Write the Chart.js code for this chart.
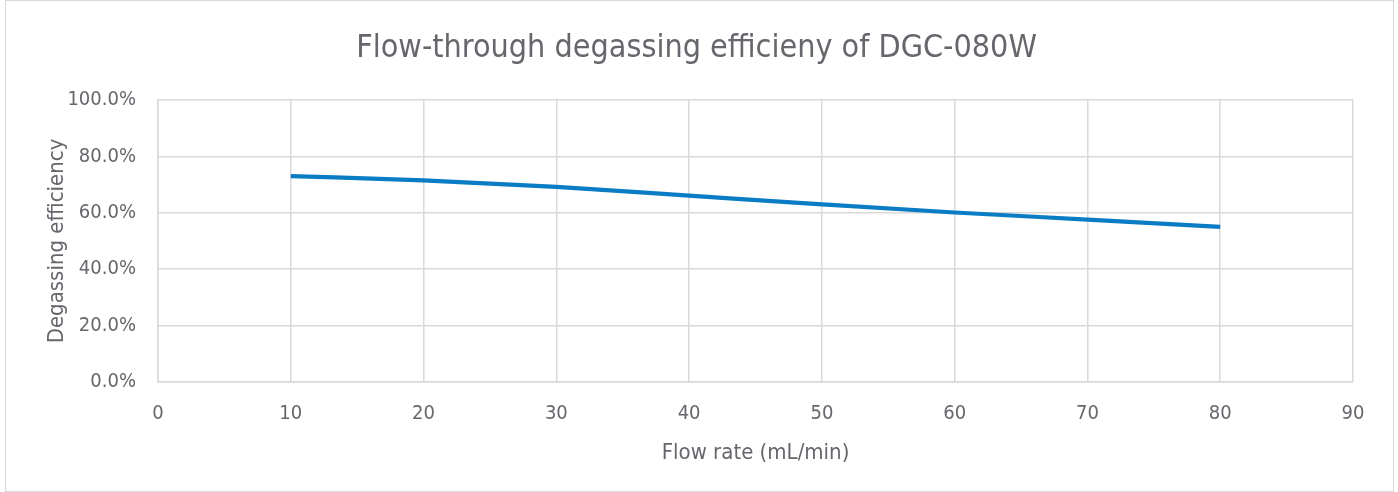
<!DOCTYPE html>
<html>
<head>
<meta charset="utf-8">
<script src="https://cdn.jsdelivr.net/npm/chart.js@4.4.1/dist/chart.umd.min.js"></script>
<style>
	html, body {
		margin: 0;
		padding: 0;
		background: #ffffff;
	}

	#wrap {
		position: relative;
		width: 1398px;
		height: 492px;
	}

	#frame {
		position: absolute;
		left: 5px;
		top: 0px;
		width: 1387px;
		height: 490px;
		border: 1px solid #d9d9d9;
		pointer-events: none;
	}
</style>
</head>
<body>
<div id="wrap">
	<canvas id="myChart" width="1398" height="492"></canvas>
	<div id="frame"></div>
</div>

<script>
	const flowRates = [10, 20, 30, 40, 50, 60, 70, 80];
	const efficiency = [73.0, 71.5, 69.2, 66.1, 63.0, 60.1, 57.6, 55.0];
	const xTicks = [0, 10, 20, 30, 40, 50, 60, 70, 80, 90];
	const yTicks = [0, 20, 40, 60, 80, 100];

	const textColor = '#66676c';
	const gridColor = '#d9d9d9';
	const fontFamily = '"DejaVu Sans Condensed", Roboto, sans-serif';

	const points = flowRates.map(function (x, i) {
		return { x: x, y: efficiency[i] };
	});

	const data = {
		datasets: [{
			label: 'Degassing efficiency',
			data: points,
			borderColor: '#0a7cc4',
			backgroundColor: '#0a7cc4',
			borderWidth: 4.2,
			pointRadius: 0,
			tension: 0.4,
			cubicInterpolationMode: 'monotone',
			fill: false
		}]
	};

	const config = {
		type: 'line',
		data: data,
		options: {
			responsive: false,
			animation: false,
			layout: {
				padding: { left: 40, right: 45, top: 0, bottom: 22 }
			},
			plugins: {
				legend: { display: false },
				tooltip: { enabled: false },
				title: {
					display: true,
					text: 'Flow-through degassing efficieny of DGC-080W',
					color: textColor,
					font: { family: fontFamily, size: 32, weight: 'normal', lineHeight: 1.2 },
					padding: { top: 29, bottom: 32.6 }
				}
			},
			scales: {
				x: {
					type: 'linear',
					min: 0,
					max: 90,
					afterBuildTicks: function (scale) {
						scale.ticks = xTicks.map(function (v) { return { value: v }; });
					},
					afterFit: function (scale) {
						scale.height = 88;
					},
					grid: { color: gridColor, lineWidth: 1.5, drawTicks: false },
					border: { color: gridColor, width: 1.5 },
					ticks: {
						color: textColor,
						font: { family: fontFamily, size: 20 },
						padding: 20,
						maxRotation: 0
					},
					title: {
						display: true,
						text: 'Flow rate (mL/min)',
						color: textColor,
						font: { family: fontFamily, size: 22 },
						padding: 4
					}
				},
				y: {
					min: 0,
					max: 100,
					afterBuildTicks: function (scale) {
						scale.ticks = yTicks.map(function (v) { return { value: v }; });
					},
					afterFit: function (scale) {
						scale.width = 118;
					},
					grid: { color: gridColor, lineWidth: 1.5, drawTicks: false },
					border: { color: gridColor, width: 1.5 },
					ticks: {
						color: textColor,
						font: { family: fontFamily, size: 20 },
						padding: 22,
						callback: function (v) { return v.toFixed(1) + '%'; }
					},
					title: {
						display: true,
						text: 'Degassing efficiency',
						color: textColor,
						font: { family: fontFamily, size: 22 },
						padding: 4
					}
				}
			}
		}
	};

	const myChart = new Chart(
		document.getElementById('myChart'),
		config
	);
</script>
</body>
</html>
